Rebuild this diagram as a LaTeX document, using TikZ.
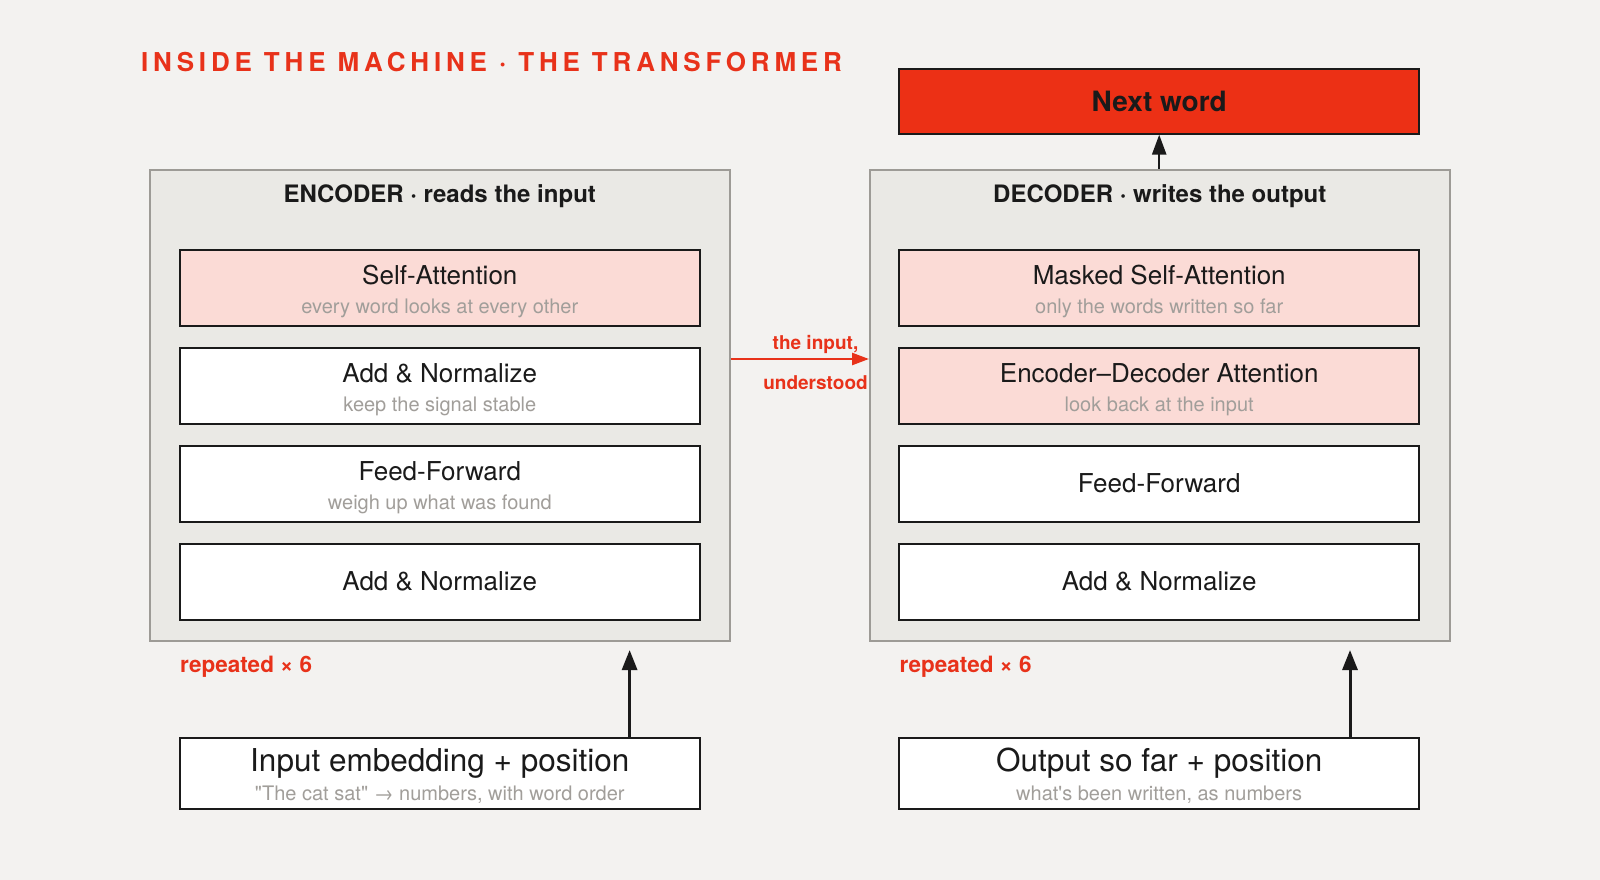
\documentclass[tikz,border=0pt]{standalone}
\usepackage{fontspec}
\setmainfont{TeX Gyre Heros}[Ligatures=TeXOff]
\newfontfamily\spacedfont[LetterSpace=18.5]{TeX Gyre Heros}
\usetikzlibrary{arrows.meta}
\definecolor{bg}{HTML}{F3F2F0}
\definecolor{contfill}{HTML}{EAE9E5}
\definecolor{contline}{HTML}{9D9B96}
\definecolor{pinkfill}{HTML}{FBDBD6}
\definecolor{redc}{HTML}{E8321A}
\definecolor{nextred}{HTML}{EC3015}
\definecolor{textdark}{HTML}{1A1A1A}
\definecolor{subgray}{HTML}{A19E9A}
\newcommand{\fsz}[1]{\fontsize{#1}{#1}\selectfont}
\begin{document}
\begin{tikzpicture}[x=1pt,y=-1pt,
  container/.style={draw=contline, line width=2pt, fill=contfill, rectangle, inner sep=0pt, minimum width=579.5pt, minimum height=471.5pt},
  layer/.style={draw=textdark, line width=2pt, fill=white, rectangle, inner sep=0pt, minimum width=520.4pt, minimum height=75.5pt},
  attn/.style={layer, fill=pinkfill},
  iobox/.style={layer, minimum height=71.4pt},
  ttl/.style={anchor=base, inner sep=0pt, text=textdark, font=\fsz{26}},
  bigttl/.style={anchor=base, inner sep=0pt, text=textdark, font=\fsz{31.5}},
  sub/.style={anchor=base, inner sep=0pt, text=subgray, font=\fsz{20}},
  ctitle/.style={anchor=base, inner sep=0pt, text=textdark, font=\bfseries\fsz{24}},
  redlbl/.style={anchor=base, inner sep=0pt, text=redc, font=\bfseries\fsz{19}},
  reptxt/.style={anchor=base west, inner sep=0pt, text=redc, font=\bfseries\fsz{22.5}},
  arr/.style={draw=textdark, line width=3pt, -{Triangle[length=20pt,width=15pt]}},
  redarr/.style={draw=redc, line width=2.5pt, -{Triangle[length=17pt,width=12pt]}}
]
\useasboundingbox[fill=bg] (0,0) rectangle (1600,880);

% title
\node[anchor=base west, inner sep=0pt, text=redc, font=\spacedfont\bfseries\fsz{26}] (title) at (141,72) {INSIDE THE MACHINE · THE TRANSFORMER};

% containers
\node[container] (enc) at (439.75,405.25) {};
\node[container] (dec) at (1159.75,405.25) {};
\node[ctitle] (enct) at (439.75,202.5) {ENCODER · reads the input};
\node[ctitle] (dect) at (1159.75,202.5) {DECODER · writes the output};

% encoder layers
\node[attn] (e1) at (439.8,287.75) {};
\node[ttl] (e1t) at (439.8,284) {Self-Attention};
\node[sub] (e1s) at (439.8,313) {every word looks at every other};
\node[layer] (e2) at (439.8,385.75) {};
\node[ttl] (e2t) at (439.8,382) {Add \& Normalize};
\node[sub] (e2s) at (439.8,411) {keep the signal stable};
\node[layer] (e3) at (439.8,483.75) {};
\node[ttl] (e3t) at (439.8,480) {Feed-Forward};
\node[sub] (e3s) at (439.8,509) {weigh up what was found};
\node[layer] (e4) at (439.8,581.75) {};
\node[ttl] (e4t) at (439.8,590.5) {Add \& Normalize};

% decoder layers
\node[attn] (d1) at (1159.2,287.75) {};
\node[ttl] (d1t) at (1159.2,284) {Masked Self-Attention};
\node[sub] (d1s) at (1159.2,313) {only the words written so far};
\node[attn] (d2) at (1159.2,385.75) {};
\node[ttl] (d2t) at (1159.2,382) {Encoder–Decoder Attention};
\node[sub] (d2s) at (1159.2,411) {look back at the input};
\node[layer] (d3) at (1159.2,483.75) {};
\node[ttl] (d3t) at (1159.2,492.5) {Feed-Forward};
\node[layer] (d4) at (1159.2,581.75) {};
\node[ttl] (d4t) at (1159.2,590.5) {Add \& Normalize};

% next word
\node[draw=textdark, line width=2pt, fill=nextred, inner sep=0pt, minimum width=520.4pt, minimum height=64.3pt] (next) at (1159.2,101.5) {};
\node[anchor=base, inner sep=0pt, text=textdark, font=\bfseries\fsz{28}] (nextt) at (1159.2,111.5) {Next word};
\draw[arr, line width=2.5pt, -{Triangle[length=20pt,width=14pt]}] (next.south |- dec.north) -- (next.south);

% cross arrow
\coordinate (crossy) at (0,359);
\draw[redarr] (enc.east |- crossy) -- (dec.west |- crossy);
\node[redlbl] (lbl1) at (815.5,349.5) {the input,};
\node[redlbl] (lbl2) at (815.5,389) {understood};

% repeated
\node[reptxt] (rep1) at (180,672) {repeated × 6};
\node[reptxt] (rep2) at (899.5,672) {repeated × 6};

% inputs
\node[iobox] (inp) at (439.8,773.5) {};
\node[bigttl] (inpt) at (439.8,771.5) {Input embedding + position};
\node[sub] (inps) at (439.8,800) {"The cat sat" → numbers, with word order};
\node[iobox] (outp) at (1159.2,773.5) {};
\node[bigttl] (outpt) at (1159.2,771.5) {Output so far + position};
\node[sub] (outps) at (1159.2,800) {what's been written, as numbers};

\coordinate (encin) at (629.6,650);
\coordinate (decin) at (1350,650);
\draw[arr] (inp.north -| encin) -- (encin);
\draw[arr] (outp.north -| decin) -- (decin);
\end{tikzpicture}
\end{document}
